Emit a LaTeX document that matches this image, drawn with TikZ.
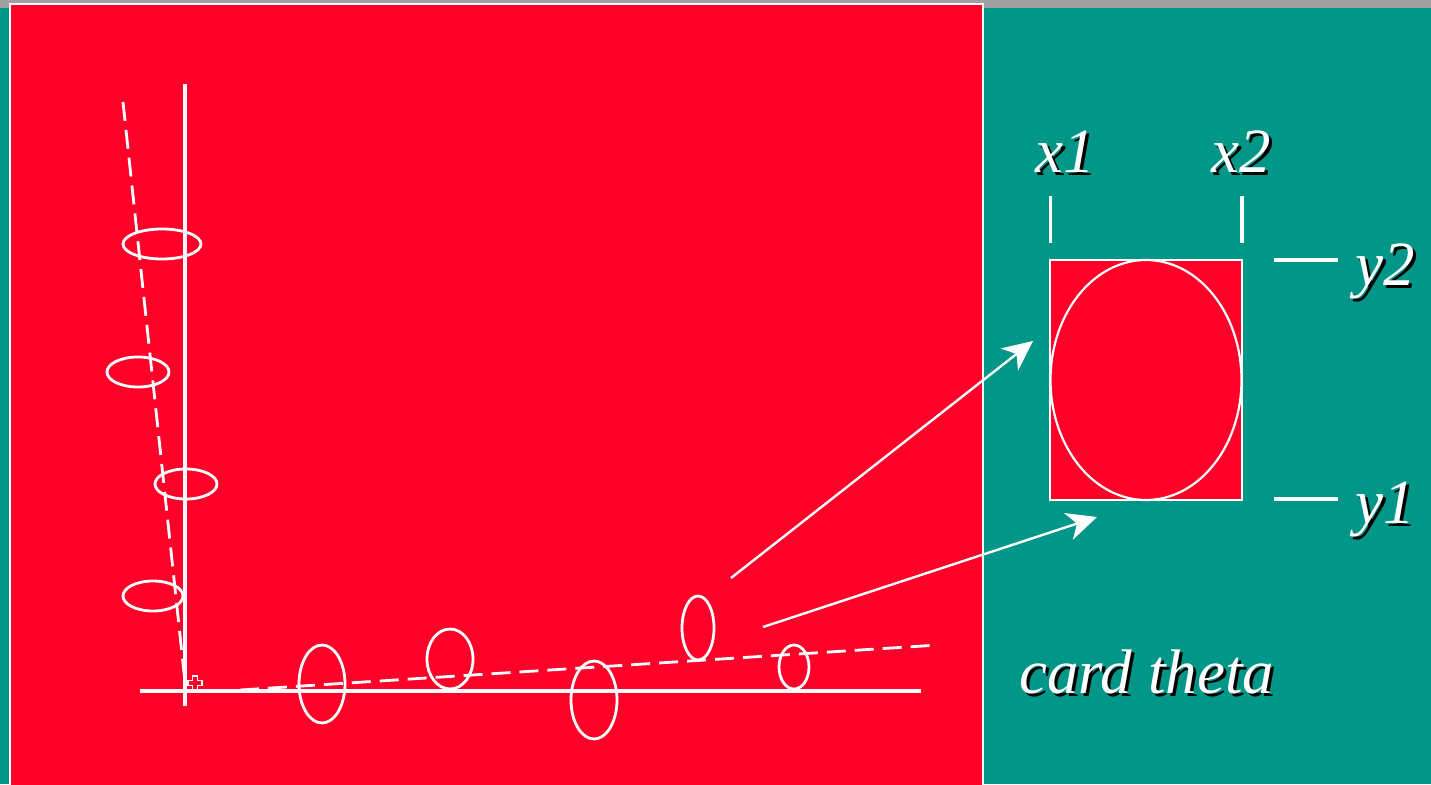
\documentclass[tikz,border=0pt]{standalone}
\usepackage{fontspec}
\setmainfont{Liberation Serif}
\usetikzlibrary{shapes.geometric,arrows.meta}
\definecolor{bgteal}{RGB}{0,150,136}
\definecolor{panelred}{RGB}{255,0,40}
\definecolor{stripgrey}{RGB}{160,160,160}
\newcommand{\shadowed}[1]{\makebox[0pt][l]{\kern3pt\raisebox{-3pt}{\color{black}#1}}#1}
\begin{document}
\begin{tikzpicture}[x=1pt,y=-1pt,
  ring/.style={draw=white, line width=2.8pt, ellipse, inner sep=0pt},
  axisline/.style={draw=white, line width=3.2pt},
  guide/.style={draw=white, line width=2.8pt, dash pattern=on 19pt off 9pt},
  pointer/.style={draw=white, line width=2.4pt, -{Stealth[length=30pt,width=28pt,inset=9pt]}},
  tickline/.style={draw=white, line width=3.2pt},
  lbl/.style={font=\fontsize{63}{63}\selectfont\itshape, text=white, inner sep=0pt, anchor=base west}]
\useasboundingbox (0,0) rectangle (1431,784);
% background
\fill[bgteal] (0,0) rectangle (1431,784);
\fill[stripgrey] (0,0) rectangle (1431,8);
% red panel
\fill[panelred] (10,4) rectangle (983,790);
\draw[white, line width=2pt] (10,790) -- (10,4) -- (983,4) -- (983,790);
% axes
\coordinate (vtop) at (185,84);
\coordinate (vbot) at (185,706);
\coordinate (hleft) at (140,691);
\coordinate (hright) at (921,691);
\draw[axisline] (vtop) -- (vbot);
\draw[axisline] (hleft) -- (hright);
% origin marker
\draw[white, line width=1.8pt, fill=panelred]
  (192.5,676) -- (197.5,676) -- (197.5,680.5) -- (202,680.5) -- (202,685.5) -- (197.5,685.5)
  -- (197.5,690) -- (192.5,690) -- (192.5,685.5) -- (188,685.5) -- (188,680.5) -- (192.5,680.5) -- cycle;
% dashed guide lines
\coordinate (d1a) at (123,102);
\coordinate (d1b) at (185,682);
\coordinate (d2a) at (240,690);
\coordinate (d2b) at (938,645);
\draw[guide] (d1a) -- (d1b);
\draw[guide] (d2a) -- (d2b);
% ellipses near vertical axis
\node[ring, minimum width=78pt, minimum height=30pt] (v1) at (162,244) {};
\node[ring, minimum width=62pt, minimum height=30pt] (v2) at (138,372) {};
\node[ring, minimum width=62pt, minimum height=30pt] (v3) at (186,484) {};
\node[ring, minimum width=60pt, minimum height=30pt] (v4) at (153,596) {};
% ellipses near horizontal axis
\node[ring, minimum width=46pt, minimum height=78pt] (h1) at (322,684) {};
\node[ring, minimum width=46pt, minimum height=60pt] (h2) at (450,659) {};
\node[ring, minimum width=46pt, minimum height=78pt] (h3) at (594,700) {};
\node[ring, minimum width=32pt, minimum height=64pt] (h4) at (698,628) {};
\node[ring, minimum width=30pt, minimum height=44pt] (h5) at (794,667) {};
% card
\node[draw=white, line width=2pt, fill=panelred, rectangle, inner sep=0pt,
      minimum width=192pt, minimum height=240pt] (card) at (1146,380) {};
\node[ring, line width=2.2pt, minimum width=191pt, minimum height=240pt] (cardring) at (1146,380) {};
% arrows
\coordinate (a1s) at (731,578);
\coordinate (a1e) at (1033,341);
\coordinate (a2s) at (763,627);
\coordinate (a2e) at (1097,517);
\draw[pointer] (a1s) -- (a1e);
\draw[pointer] (a2s) -- (a2e);
% ticks
\coordinate (tx1a) at (1050.5,196); \coordinate (tx1b) at (1050.5,243);
\coordinate (tx2a) at (1242,196); \coordinate (tx2b) at (1242,243);
\coordinate (ty2a) at (1274,260); \coordinate (ty2b) at (1338,260);
\coordinate (ty1a) at (1274,499); \coordinate (ty1b) at (1338,499);
\draw[tickline] (tx1a) -- (tx1b);
\draw[tickline] (tx2a) -- (tx2b);
\draw[tickline] (ty2a) -- (ty2b);
\draw[tickline] (ty1a) -- (ty1b);
% labels (white with black drop shadow)
\node[lbl] (x1) at (1035,172) {\shadowed{x1}};
\node[lbl] (x2) at (1211,172) {\shadowed{x2}};
\node[lbl] (y2) at (1355,285) {\shadowed{y2}};
\node[lbl] (y1) at (1355,523) {\shadowed{y1}};
\node[lbl] (ct) at (1019,693) {\shadowed{card theta}};
\end{tikzpicture}
\end{document}
